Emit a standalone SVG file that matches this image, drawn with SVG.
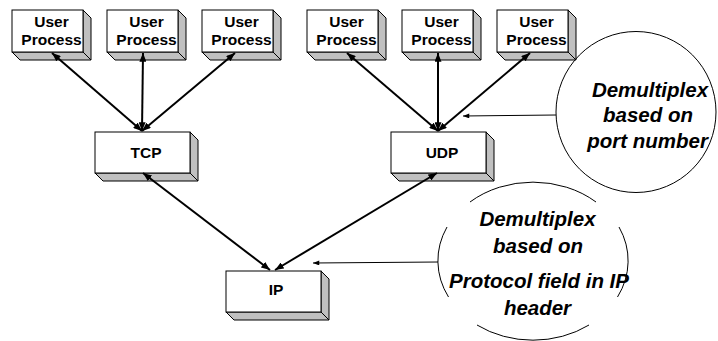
<svg xmlns="http://www.w3.org/2000/svg" width="718" height="341" viewBox="0 0 718 341">
<defs>
<style>
.front{fill:#fff;stroke:#000;stroke-width:1}
.side{fill:#c0c0c0;stroke:#000;stroke-width:1;stroke-linejoin:round}
.lbl{font-family:"Liberation Sans",Arial,sans-serif;font-weight:bold;font-size:15.5px;text-anchor:middle;fill:#000}
.note{font-family:"Liberation Sans",Arial,sans-serif;font-weight:bold;font-style:italic;font-size:20.5px;text-anchor:middle;fill:#000}
.conn{stroke:#000;stroke-width:2;fill:none;marker-start:url(#ah);marker-end:url(#ah)}
.call{stroke:#000;stroke-width:1;fill:none;marker-end:url(#sh)}
.bub{fill:none;stroke:#000;stroke-width:1}
</style>
<marker id="ah" viewBox="0 0 10 8" refX="10" refY="4" markerWidth="9" markerHeight="7" markerUnits="userSpaceOnUse" orient="auto-start-reverse">
<path d="M0,0 L10,4 L0,8 z" fill="#000"/>
</marker>
<marker id="sh" viewBox="0 0 10 8" refX="10" refY="4" markerWidth="7" markerHeight="5" markerUnits="userSpaceOnUse" orient="auto">
<path d="M0,0 L10,4 L0,8 z" fill="#000"/>
</marker>
</defs>

<g id="up1" transform="translate(12,10)">
<polygon class="side" points="71,0 79,8 79,50 71,42"/>
<polygon class="side" points="0,42 8,50 79,50 71,42"/>
<rect class="front" x="0" y="0" width="71" height="42"/>
<text class="lbl" x="39.5" y="17">User</text>
<text class="lbl" x="39.5" y="35">Process</text>
</g>
<g id="up2" transform="translate(107,10)">
<polygon class="side" points="71,0 79,8 79,50 71,42"/>
<polygon class="side" points="0,42 8,50 79,50 71,42"/>
<rect class="front" x="0" y="0" width="71" height="42"/>
<text class="lbl" x="39.5" y="17">User</text>
<text class="lbl" x="39.5" y="35">Process</text>
</g>
<g id="up3" transform="translate(202,10)">
<polygon class="side" points="71,0 79,8 79,50 71,42"/>
<polygon class="side" points="0,42 8,50 79,50 71,42"/>
<rect class="front" x="0" y="0" width="71" height="42"/>
<text class="lbl" x="39.5" y="17">User</text>
<text class="lbl" x="39.5" y="35">Process</text>
</g>
<g id="up4" transform="translate(307,10)">
<polygon class="side" points="71,0 79,8 79,50 71,42"/>
<polygon class="side" points="0,42 8,50 79,50 71,42"/>
<rect class="front" x="0" y="0" width="71" height="42"/>
<text class="lbl" x="39.5" y="17">User</text>
<text class="lbl" x="39.5" y="35">Process</text>
</g>
<g id="up5" transform="translate(402,10)">
<polygon class="side" points="71,0 79,8 79,50 71,42"/>
<polygon class="side" points="0,42 8,50 79,50 71,42"/>
<rect class="front" x="0" y="0" width="71" height="42"/>
<text class="lbl" x="39.5" y="17">User</text>
<text class="lbl" x="39.5" y="35">Process</text>
</g>
<g id="up6" transform="translate(497,10)">
<polygon class="side" points="71,0 79,8 79,50 71,42"/>
<polygon class="side" points="0,42 8,50 79,50 71,42"/>
<rect class="front" x="0" y="0" width="71" height="42"/>
<text class="lbl" x="39.5" y="17">User</text>
<text class="lbl" x="39.5" y="35">Process</text>
</g>

<g id="tcp" transform="translate(95,132)">
<polygon class="side" points="95,0 103,8 103,49 95,41"/>
<polygon class="side" points="0,41 8,49 103,49 95,41"/>
<rect class="front" x="0" y="0" width="95" height="41"/>
<text class="lbl" x="51" y="26">TCP</text>
</g>
<g id="udp" transform="translate(391,132)">
<polygon class="side" points="95,0 103,8 103,49 95,41"/>
<polygon class="side" points="0,41 8,49 103,49 95,41"/>
<rect class="front" x="0" y="0" width="95" height="41"/>
<text class="lbl" x="51" y="26">UDP</text>
</g>
<g id="ip" transform="translate(226,271)">
<polygon class="side" points="95,0 103,8 103,49 95,41"/>
<polygon class="side" points="0,41 8,49 103,49 95,41"/>
<rect class="front" x="0" y="0" width="95" height="41"/>
<text class="lbl" x="50" y="24">IP</text>
</g>

<g id="note-port">
<ellipse class="bub" cx="636" cy="112" rx="80" ry="80.5"/>
<text class="note" x="650" y="97">Demultiplex</text>
<text class="note" x="648" y="122">based on</text>
<text class="note" x="647.5" y="148">port number</text>
</g>

<g id="note-proto">
<path class="bub" d="M470,202 A95,79 0 0 1 596,202 M619,227 A95,79 0 0 1 617.5,297 M589,325 A95,79 0 0 1 477,325 M448.5,297 A95,79 0 0 1 447,227"/>
<text class="note" x="537.5" y="226">Demultiplex</text>
<text class="note" x="538" y="253">based on</text>
<text class="note" x="539" y="288">Protocol field in IP</text>
<text class="note" x="537.5" y="315">header</text>
</g>

<g id="connectors">
<line class="conn" x1="142" y1="131" x2="52" y2="53"/>
<line class="conn" x1="142" y1="131" x2="143" y2="53"/>
<line class="conn" x1="142" y1="131" x2="235" y2="53"/>
<line class="conn" x1="438" y1="131" x2="347" y2="53"/>
<line class="conn" x1="438" y1="131" x2="438" y2="53"/>
<line class="conn" x1="438" y1="131" x2="530" y2="53"/>
<line class="conn" x1="270" y1="270" x2="143" y2="173"/>
<line class="conn" x1="275" y1="270" x2="437" y2="173"/>
<line class="call" x1="556" y1="115" x2="463" y2="116"/>
<line class="call" x1="438" y1="262" x2="313" y2="263"/>
</g>
</svg>
